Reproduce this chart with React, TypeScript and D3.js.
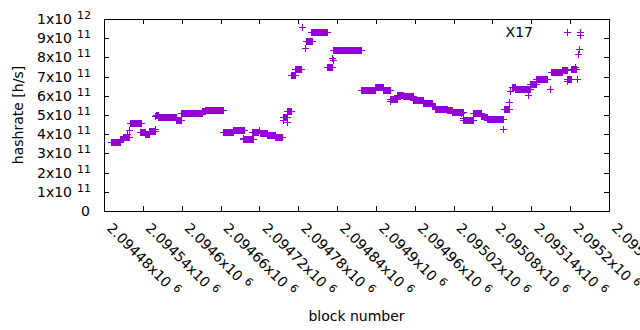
import React from "react";
import * as d3 from "d3";

// ---- data (hashrate in units of 1e11 h/s) ----
const runFirst = [
  2094491, 2094504, 2094510, 2094520, 2094536, 2094543, 2094550, 2094560, 2094563, 2094591,
  2094599, 2094631, 2094636, 2094664, 2094680, 2094695, 2094709, 2094721, 2094732, 2094744,
  2094757, 2094763, 2094769, 2094775, 2094792, 2094800, 2094825, 2094833, 2094877, 2094899,
  2094911, 2094921, 2094933, 2094942, 2094957, 2094973, 2094987, 2094992, 2095010, 2095018,
  2095035, 2095050, 2095063, 2095067, 2095072, 2095098, 2095110, 2095115, 2095138, 2095147,
  2095170, 2095187, 2095195, 2095201,
];
const runLast = [
  2094504, 2094510, 2094518, 2094537, 2094543, 2094550, 2094558, 2094563, 2094591, 2094599,
  2094631, 2094636, 2094664, 2094680, 2094697, 2094710, 2094718, 2094732, 2094744, 2094755,
  2094763, 2094769, 2094775, 2094784, 2094801, 2094825, 2094832, 2094877, 2094899, 2094911,
  2094921, 2094933, 2094942, 2094957, 2094973, 2094987, 2094992, 2095010, 2095018, 2095035,
  2095050, 2095063, 2095067, 2095072, 2095097, 2095106, 2095115, 2095138, 2095147, 2095164,
  2095187, 2095195, 2095201, 2095209,
];
const runHashrate = [
  3.58, 3.76, 3.88, 4.56, 4.12, 4.03, 4.17, 5.0, 4.87, 4.72,
  5.08, 5.2, 5.26, 4.1, 4.2, 3.74, 4.1, 4.05, 3.98, 3.86,
  4.9, 5.2, 7.08, 7.42, 8.88, 9.3, 7.5, 8.41, 6.3, 6.47,
  6.3, 5.85, 6.05, 5.97, 5.8, 5.6, 5.48, 5.33, 5.25, 5.18,
  4.72, 5.08, 4.97, 4.9, 4.77, 5.33, 6.45, 6.36, 6.6, 6.9,
  7.25, 7.35, 6.88, 7.42,
];
const pointBlock = [
  2094516, 2094519, 2094559, 2094558, 2094694, 2094720, 2094757, 2094762, 2094765, 2094771,
  2094790, 2094786, 2094832, 2094833, 2094922, 2095035, 2095032, 2095096, 2095106, 2095107,
  2095135, 2095169, 2095195, 2095211, 2095212, 2095213, 2095215, 2095215, 2095207,
];
const pointHashrate = [
  4.02, 4.2, 4.27, 4.95, 3.8, 4.2, 4.74, 4.65, 5.2, 7.1,
  8.5, 9.57, 7.97, 7.86, 5.75, 4.85, 5.1, 4.27, 5.67, 6.25,
  6.05, 6.35, 6.77, 6.87, 8.2, 8.45, 9.33, 9.15, 7.5,
];
const xTicks = [
  2094480, 2094540, 2094600, 2094660, 2094720, 2094780, 2094840, 2094900, 2094960, 2095020,
  2095080, 2095140, 2095200, 2095260,
];
const yTicks = [0, 1, 2, 3, 4, 5, 6, 7, 8, 9, 10];
const seriesName = "X17";
const xTitle = "block number";
const yTitle = "hashrate [h/s]";

const W = 640;
const H = 330;
const L = 104, R = 609, T = 19, B = 211;
const COLOR = "#9400d3";
const FONT = "'DejaVu Sans', sans-serif";
const FS = 14;
const SUP = 11;

export default function App() {
  const x = d3.scaleLinear().domain([2094480, 2095260]).range([L, R]);
  const y = d3.scaleLinear().domain([0, 1e12]).range([B, T]);

  const pts: [number, number][] = [];
  runFirst.forEach((f, i) => {
    for (let b = f; b <= runLast[i]; b++) pts.push([b, runHashrate[i] * 1e11]);
  });
  pointBlock.forEach((b, i) => pts.push([b, pointHashrate[i] * 1e11]));

  const s = 3.5;
  const plus = (px: number, py: number) => {
    const cx = Math.round(px) + 0.5;
    const cy = Math.round(py) + 0.5;
    return `M${cx - s},${cy}h${2 * s}M${cx},${cy - s}v${2 * s}`;
  };
  const markPath = pts.map(([b, v]) => plus(x(b), y(v))).join("");

  const yLabel = (v: number) => {
    if (v === 0) return { m: "0", e: "" };
    if (v === 10) return { m: "1x10", e: "12" };
    return { m: `${v}x10`, e: "11" };
  };
  const xLabel = (b: number) => {
    const m = d3.format(".6~f")(b / 1e6);
    return { m: `${m}x10`, e: "6" };
  };

  return (
    <svg width={W} height={H} style={{ position: "fixed", left: 0, top: 0, background: "#fff" }}
      fontFamily={FONT} fontSize={FS}>
      <rect x={0} y={0} width={W} height={H} fill="#fff" />
      {/* ticks */}
      <g stroke="#000" strokeWidth={1} shapeRendering="crispEdges">
        {yTicks.map((t) => {
          const yy = Math.round(y(t * 1e11)) + 0.5;
          return (
            <g key={"yt" + t}>
              <line x1={L} x2={L + 5} y1={yy} y2={yy} />
              <line x1={R - 5} x2={R} y1={yy} y2={yy} />
            </g>
          );
        })}
        {xTicks.map((t) => {
          const xx = Math.round(x(t)) + 0.5;
          return (
            <g key={"xt" + t}>
              <line x1={xx} x2={xx} y1={B} y2={B - 5} />
              <line x1={xx} x2={xx} y1={T} y2={T + 5} />
            </g>
          );
        })}
        <rect x={L + 0.5} y={T + 0.5} width={R - L} height={B - T} fill="none" />
      </g>
      {/* y labels */}
      {yTicks.map((t) => {
        const l = yLabel(t);
        const yy = y(t * 1e11);
        return (
          <text key={"yl" + t} x={l.e ? 91 : 90} y={yy + 5} textAnchor="end" fill="#000">
            {l.m}
            {l.e && (
              <tspan dx={5} dy={-5} fontSize={SUP}>{l.e}</tspan>
            )}
          </text>
        );
      })}
      {/* x labels */}
      {xTicks.map((t) => {
        const l = xLabel(t);
        const xx = x(t);
        return (
          <text key={"xl" + t} transform={`translate(${xx + 2},${B + 18}) rotate(45)`} fill="#000">
            {l.m}
            <tspan dx={5} dy={-5} fontSize={SUP}>{l.e}</tspan>
          </text>
        );
      })}
      <text x={(L + R) / 2} y={321} textAnchor="middle" fill="#000">{xTitle}</text>
      <text transform={`translate(23,${(T + B) / 2}) rotate(-90)`} textAnchor="middle" fill="#000">{yTitle}</text>
      {/* key */}
      <text x={533} y={37} textAnchor="end" fill="#000">{seriesName}</text>
      <path d={plus(567, 32)} stroke={COLOR} strokeWidth={1} fill="none" shapeRendering="crispEdges" />
      {/* data */}
      <path d={markPath} stroke={COLOR} strokeWidth={1} fill="none" shapeRendering="crispEdges" />
    </svg>
  );
}
